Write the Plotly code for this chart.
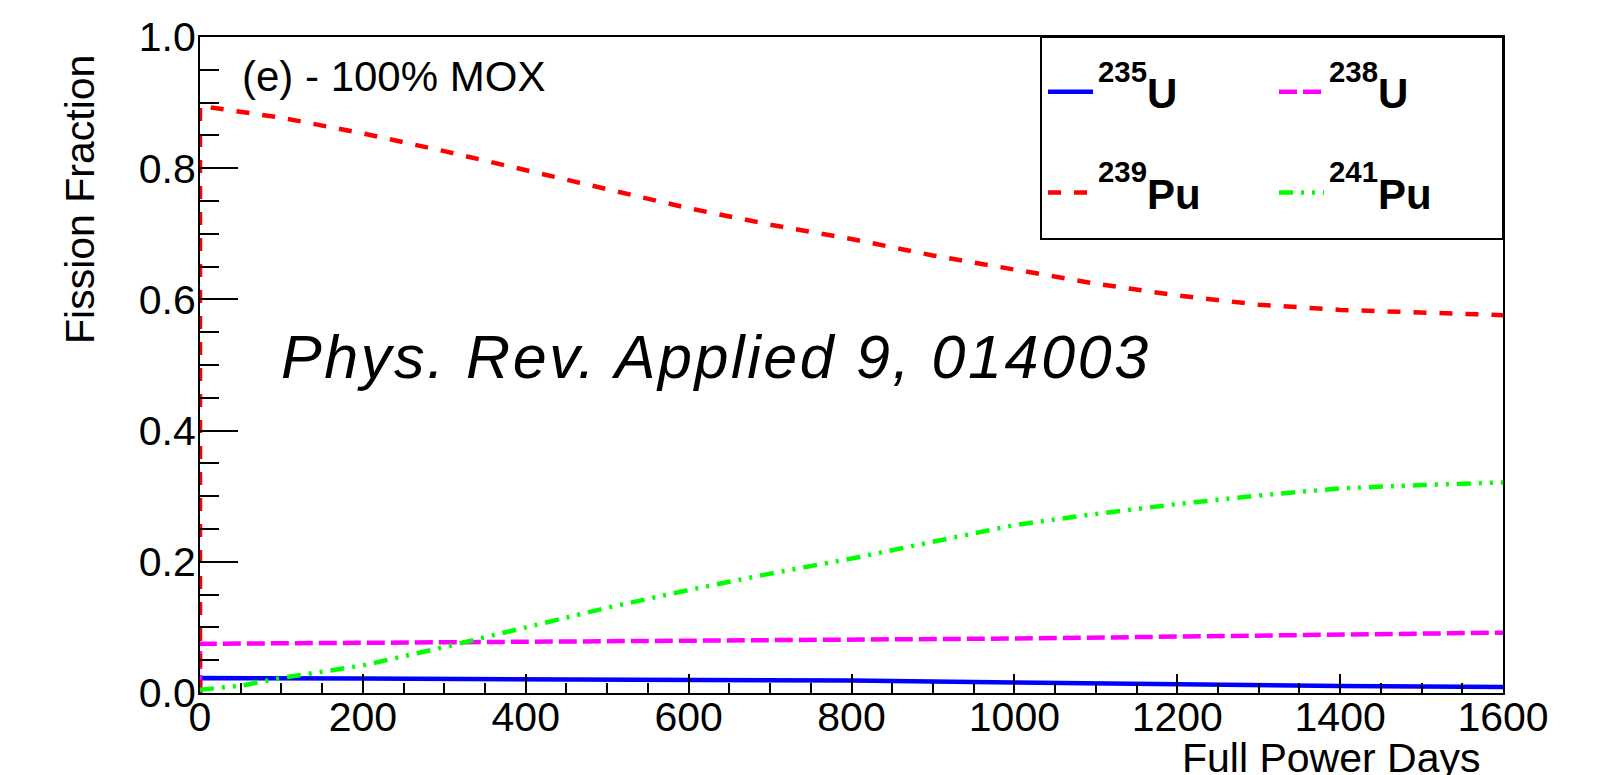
import plotly.graph_objects as go

# ---- data ----
days_u235 = [0, 0, 200, 400, 600, 800, 1000, 1200, 1400, 1600]
frac_u235 = [0.0, 0.023, 0.022, 0.021, 0.020, 0.019, 0.016, 0.0125, 0.0105, 0.009]

days_u238 = [0, 0, 200, 400, 600, 800, 1000, 1200, 1400, 1600]
frac_u238 = [0.0, 0.075, 0.0765, 0.078, 0.0795, 0.081, 0.083, 0.086, 0.089, 0.092]

days_pu239 = [0, 0, 100, 200, 300, 400, 500, 600, 700, 800, 900, 1000, 1100, 1200, 1300, 1400, 1500, 1600]
frac_pu239 = [0.0, 0.895, 0.877, 0.853, 0.826, 0.797, 0.767, 0.739, 0.714, 0.692, 0.667, 0.646, 0.624, 0.606, 0.592, 0.584, 0.580, 0.576]

days_pu241 = [0, 50, 100, 200, 300, 400, 500, 600, 700, 800, 900, 1000, 1100, 1200, 1300, 1400, 1500, 1600]
frac_pu241 = [0.005, 0.011, 0.023, 0.042, 0.070, 0.0995, 0.13, 0.157, 0.182, 0.205, 0.231, 0.256, 0.273, 0.288, 0.301, 0.312, 0.317, 0.321]

x_ticks = [0, 200, 400, 600, 800, 1000, 1200, 1400, 1600]
y_ticks = [0.0, 0.2, 0.4, 0.6, 0.8, 1.0]
y_tick_text = ["0.0", "0.2", "0.4", "0.6", "0.8", "1.0"]

FONT = "Liberation Sans, Arial, Helvetica, sans-serif"

def iso_label(mass, sym):
    return ("<b><sup><span style='baseline-shift:9px'>%s</span></sup>%s</b>" % (mass, sym))

fig = go.Figure()
fig.add_trace(go.Scatter(x=days_u235, y=frac_u235, mode="lines",
                         name=iso_label("235", "U"),
                         line=dict(color="#0000ff", width=4.5),
                         legend="legend", legendgroup="a"))
fig.add_trace(go.Scatter(x=days_u238, y=frac_u238, mode="lines",
                         name=iso_label("238", "U"),
                         line=dict(color="#ff00ff", width=4.5, dash="18px,6px"),
                         legend="legend2", legendgroup="b"))
fig.add_trace(go.Scatter(x=days_pu239, y=frac_pu239, mode="lines",
                         name=iso_label("239", "Pu"),
                         line=dict(color="#ff0000", width=4.5, dash="13px,13px"),
                         legend="legend", legendgroup="c"))
fig.add_trace(go.Scatter(x=days_pu241, y=frac_pu241, mode="lines",
                         name=iso_label("241", "Pu"),
                         line=dict(color="#00ff00", width=4.5, dash="14px,8px,3px,8px,3px,8px"),
                         legend="legend2", legendgroup="d"))

W, H = 1599, 775
L, R, T, B = 200, 96, 37, 82
pw, ph = W - L - R, H - T - B

def px(xp):
    return (xp - L) / pw

def py(yp):
    return (H - B - yp) / ph

axis_common = dict(showline=True, linecolor="black", linewidth=2, mirror=True,
                   showgrid=False, zeroline=False, ticks="inside", tickcolor="black",
                   tickwidth=2, tickfont=dict(family=FONT, size=41, color="black"))

fig.update_xaxes(range=[0, 1600], tickvals=x_ticks, ticklen=19,
                 minor=dict(dtick=50, ticklen=10, ticks="inside", tickcolor="black", tickwidth=2),
                 ticklabelstandoff=-13, **axis_common)
fig.update_yaxes(range=[0, 1], tickvals=y_ticks, ticktext=y_tick_text, ticklen=38,
                 minor=dict(dtick=0.05, ticklen=19, ticks="inside", tickcolor="black", tickwidth=2),
                 ticklabelstandoff=-6, **axis_common)

legend_common = dict(font=dict(family=FONT, size=42, color="black"),
                     bgcolor="rgba(0,0,0,0)", borderwidth=0, tracegroupgap=43,
                     itemwidth=45,
                     xanchor="left", yanchor="top", orientation="v")

fig.update_layout(
    width=W, height=H,
    margin=dict(l=L, r=R, t=T, b=B, pad=0),
    paper_bgcolor="white", plot_bgcolor="white",
    showlegend=True,
    legend=dict(x=px(1043), y=py(58), **legend_common),
    legend2=dict(x=px(1274), y=py(58), **legend_common),
    shapes=[dict(type="rect", xref="paper", yref="paper",
                 x0=px(1041), x1=1.0, y0=py(239), y1=1.0,
                 line=dict(color="black", width=2), fillcolor="rgba(0,0,0,0)", layer="above")],
    annotations=[
        dict(text="(e) - 100% MOX", xref="paper", yref="paper", x=px(240), y=py(76),
             xanchor="left", yanchor="middle", showarrow=False,
             font=dict(family=FONT, size=42, color="black")),
        dict(text="<i><span style='letter-spacing:2.6px'>Phys. Rev. Applied 9, 014003</span></i>",
             xref="paper", yref="paper",
             x=px(279), y=py(357), xanchor="left", yanchor="middle", showarrow=False,
             font=dict(family=FONT, size=61, color="black")),
        dict(text="Full Power Days", xref="paper", yref="paper", x=px(1482), y=py(758),
             xanchor="right", yanchor="middle", showarrow=False,
             font=dict(family=FONT, size=41, color="black")),
        dict(text="Fission Fraction", xref="paper", yref="paper", x=px(80), y=py(200),
             xanchor="center", yanchor="middle", showarrow=False, textangle=-90,
             font=dict(family=FONT, size=41, color="black")),
    ],
)

fig.write_html("out.html")
